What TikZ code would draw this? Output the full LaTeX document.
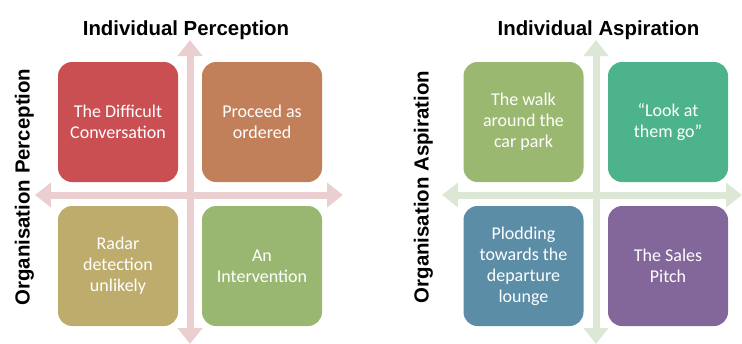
\documentclass[tikz,border=0pt]{standalone}
\usepackage{fontspec}
\setmainfont{Carlito}
\newfontfamily\headfont{Liberation Sans}
\usetikzlibrary{arrows.meta}
\definecolor{pinkaxis}{HTML}{EBCFD0}
\definecolor{greenaxis}{HTML}{DCE7D6}
\definecolor{difficult}{HTML}{C94F52}
\definecolor{proceed}{HTML}{C18059}
\definecolor{radar}{HTML}{BDAC6B}
\definecolor{intervention}{HTML}{99B771}
\definecolor{walk}{HTML}{9BB870}
\definecolor{lookat}{HTML}{4DB38A}
\definecolor{plodding}{HTML}{5B8DA7}
\definecolor{sales}{HTML}{83679A}

\begin{document}
\begin{tikzpicture}[x=1pt,y=-1pt]
\tikzstyle{quad}=[rounded corners=14pt,minimum width=120pt,minimum height=120pt,
  inner sep=0pt,align=center,text=white,font=\fontsize{18}{21}\selectfont]
\tikzstyle{axis}=[line width=7pt,{Triangle[length=16pt,width=24pt]}-{Triangle[length=16pt,width=24pt]}]
\tikzstyle{heading}=[anchor=base,font=\headfont\bfseries\fontsize{20.4}{24}\selectfont]
\useasboundingbox (0,0) rectangle (742,343);

% perception grid
\coordinate (pw) at (35,195);
\coordinate (pe) at (343,195);
\coordinate (pn) at (190,40);
\coordinate (ps) at (190,344);
\draw[axis,pinkaxis] (pw) -- (pe);
\draw[axis,pinkaxis] (pn) -- (ps);
\node[heading] (ptitle) at (186,35) {Individual Perception};
\node[heading,rotate=90] (pside) at (29.5,187) {Organisation Perception};
\node[quad,fill=difficult] (difficult) at (118,122) {The Difficult\\Conversation};
\node[quad,fill=proceed] (proceed) at (262,122) {Proceed as\\ordered};
\node[quad,fill=radar] (radar) at (118,266) {Radar\\detection\\unlikely};
\node[quad,fill=intervention] (intervention) at (262,266) {An\\Intervention};

% aspiration grid
\coordinate (aw) at (442,195);
\coordinate (ae) at (742,195);
\coordinate (an) at (596,40);
\coordinate (as) at (596,344);
\draw[axis,greenaxis] (aw) -- (ae);
\draw[axis,greenaxis] (an) -- (as);
\node[heading] (atitle) at (598.5,35) {Individual Aspiration};
\node[heading,rotate=90] (aside) at (428.5,187) {Organisation Aspiration};
\node[quad,fill=walk] (walk) at (523.5,122) {The walk\\around the\\car park};
\node[quad,fill=lookat] (lookat) at (668,122) {“Look at\\them go”};
\node[quad,fill=plodding] (plodding) at (523.5,266) {Plodding\\towards the\\departure\\lounge};
\node[quad,fill=sales] (sales) at (668,266) {The Sales\\Pitch};
\end{tikzpicture}
\end{document}
